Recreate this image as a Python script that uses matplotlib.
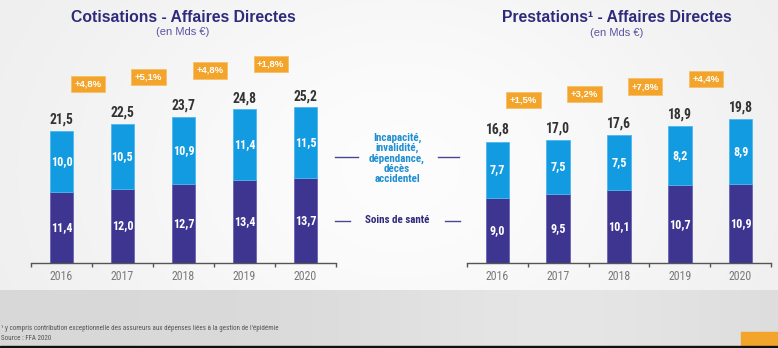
import numpy as np
import matplotlib.pyplot as plt
from matplotlib.lines import Line2D
from matplotlib.patches import Rectangle

years = ['2016', '2017', '2018', '2019', '2020']

# Cotisations (Mds EUR)
cot_sante = [11.4, 12.0, 12.7, 13.4, 13.7]
cot_prev = [10.0, 10.5, 10.9, 11.4, 11.5]
cot_total = [21.5, 22.5, 23.7, 24.8, 25.2]
cot_growth = ['+4,8%', '+5,1%', '+4,8%', '+1,8%']

# Prestations (Mds EUR)
pre_sante = [9.0, 9.5, 10.1, 10.7, 10.9]
pre_prev = [7.7, 7.5, 7.5, 8.2, 8.9]
pre_total = [16.8, 17.0, 17.6, 18.9, 19.8]
pre_growth = ['+1,5%', '+3,2%', '+7,8%', '+4,4%']

W, H = 778, 348
DARK = '#3d3590'
BLUE = '#129be0'
ORANGE = '#f3a42a'
NAVY = '#2f2b7c'
NARROW = ['Liberation Sans Narrow', 'Roboto Condensed', 'Liberation Sans', 'DejaVu Sans']
SANS = ['Liberation Sans', 'DejaVu Sans']

fig = plt.figure(figsize=(W / 100, H / 100), dpi=100)

def px(x, y):
    # pixel position from top-left -> figure fraction
    return x / W, 1 - y / H

# background
bg = fig.add_axes([0, 0, 1, 1], zorder=-10)
yy, xx = np.mgrid[0:H, 0:W]
shade = 0.925 + 0.065 * np.exp(-((xx - 400) ** 2) / (2 * 250 ** 2) - ((yy - 170) ** 2) / (2 * 190 ** 2))
low = yy >= 290
shade[low] = 0.85 + 0.05 * np.exp(-((xx[low] - 560) ** 2) / (2 * 150 ** 2))
bg.imshow(np.dstack([shade] * 3), extent=[0, W, H, 0], aspect='auto')
bg.add_patch(Rectangle((741, 332), 37, 14, color=ORANGE))
bg.add_patch(Rectangle((0, 346), W, 2, color='#111111'))
bg.set_xlim(0, W)
bg.set_ylim(H, 0)
bg.axis('off')


def fmt(v):
    return f'{v:.1f}'.replace('.', ',')


def panel(x0, x1, scale, ymax, sante, prev, total, growth, box_y):
    base = 263
    height = ymax * scale
    l, b = px(x0, base)
    ax = fig.add_axes([l, b, (x1 - x0) / W, height / H])
    ax.patch.set_alpha(0)
    x = np.arange(len(years))
    ax.bar(x, sante, width=0.39, color=DARK, edgecolor='#6a63b5', linewidth=0.6)
    ax.bar(x, prev, width=0.39, bottom=sante, color=BLUE, edgecolor='#4cb8ee', linewidth=0.6)
    for i in range(len(years)):
        ax.text(x[i], sante[i] / 2, fmt(sante[i]), ha='center', va='center',
                color='white', fontsize=8.7, fontweight='bold', family=NARROW)
        ax.text(x[i], sante[i] + prev[i] / 2, fmt(prev[i]), ha='center', va='center',
                color='white', fontsize=8.7, fontweight='bold', family=NARROW)
        ax.text(x[i], total[i] + 0.6, fmt(total[i]), ha='center', va='bottom',
                color='#333333', fontsize=9.8, fontweight='bold', family=NARROW)
    for i, g in enumerate(growth):
        ax.text(x[i] + 0.43, box_y[i], g, ha='center', va='center', color='white', fontsize=6.8,
                fontweight='bold', family=SANS,
                bbox=dict(boxstyle='square,pad=0.38', facecolor=ORANGE, edgecolor='#f7c06a', linewidth=0.6))
    ax.set_xlim(-0.5, len(years) - 0.5)
    ax.set_ylim(0, ymax)
    ax.set_xticks(x)
    ax.set_xticklabels(years, family=NARROW, fontsize=8.6, color='#7a7a7a')
    ax.set_xticks(np.arange(-0.5, len(years)), minor=True)
    ax.tick_params(axis='x', which='major', length=0, pad=5)
    ax.tick_params(axis='x', which='minor', length=3, direction='out', color='#555555', width=1)
    ax.set_yticks([])
    for s in ['top', 'right', 'left']:
        ax.spines[s].set_visible(False)
    ax.spines['bottom'].set_color('#555555')
    ax.spines['bottom'].set_linewidth(1)
    return ax


panel(31, 336, 6.19, 35, cot_sante, cot_prev, cot_total, cot_growth, [28.9, 30.0, 31.1, 32.2])
panel(467, 771, 7.26, 30, pre_sante, pre_prev, pre_total, pre_growth, [22.5, 23.3, 24.3, 25.3])

# titles
fig.text(*px(183, 17), 'Cotisations - Affaires Directes', ha='center', va='center',
         fontsize=11.3, fontweight='bold', color=NAVY, family=SANS)
fig.text(*px(183, 32), '(en Mds €)', ha='center', va='center', fontsize=8, color='#5b55a3', family=SANS)
fig.text(*px(617, 18), 'Prestations¹ - Affaires Directes', ha='center', va='center',
         fontsize=11.3, fontweight='bold', color=NAVY, family=SANS)
fig.text(*px(617, 33), '(en Mds €)', ha='center', va='center', fontsize=8, color='#5b55a3', family=SANS)

# middle legend
fig.text(*px(397, 158), 'Incapacité,\ninvalidité,\ndépendance,\ndécès\naccidentel', ha='center',
         va='center', fontsize=7.9, fontweight='bold', color='#1f8fd2', family=NARROW, linespacing=1.0)
fig.text(*px(397, 220), 'Soins de santé', ha='center', va='center', fontsize=7.9, fontweight='bold',
         color=NAVY, family=NARROW)
for xa, xb, yl in [(335, 358, 157), (438, 459, 157), (335, 350, 221), (445, 460, 221)]:
    fig.add_artist(Line2D([xa / W, xb / W], [1 - yl / H] * 2, color='#4a4594', linewidth=1))

# footnote
fig.text(*px(1, 328), '¹ y compris contribution exceptionnelle des assureurs aux dépenses liées à la gestion de l\'épidémie',
         ha='left', va='center', fontsize=5.0, color='#555555', family=NARROW)
fig.text(*px(1, 339), 'Source : FFA 2020', ha='left', va='center', fontsize=5.0, color='#555555', family=NARROW)

fig.savefig('out.png', dpi=100)
